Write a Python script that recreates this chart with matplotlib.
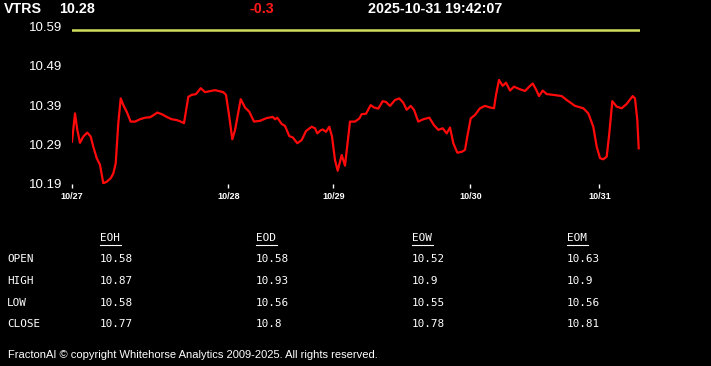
import matplotlib
matplotlib.use("Agg")
import matplotlib.pyplot as plt

# ---- data ----
symbol = "VTRS"
last_price = "10.28"
change = "-0.3"
timestamp = "2025-10-31 19:42:07"

# time position (trading-time index) and price
t = [0, 3, 5.3, 8, 11.3, 15.3, 18.7, 21.3, 24.7, 28,
     31.3, 34.7, 38.7, 41.3, 43.7, 46.3, 48.7, 51.3, 54.7, 58.7,
     63, 68, 73, 78, 81.3, 85.3, 89.7, 94.7, 99.7, 104.7,
     108.7, 112, 114.7, 116.3, 119.7, 124, 128.7, 133, 143, 151.3,
     154, 157.3, 160.3, 163, 168.7, 173, 177.3, 182, 188, 194.7,
     200.7, 203, 205.3, 209.7, 213, 217.3, 220.7, 225.3, 229.7, 234,
     239.7, 243, 245.3, 248.7, 250.7, 254, 257.3, 260, 263, 265.7,
     269.7, 273, 278, 283, 287.3, 289.7, 294, 298.7, 302, 306.3,
     310.7, 314, 318, 323, 327.3, 331.3, 334.7, 338.7, 342, 346.3,
     351.3, 357.3, 362, 366.3, 370.7, 374.7, 378, 381.3, 385.3, 389.7,
     393, 395.3, 398.7, 403, 408, 413, 418, 422, 424, 427,
     430.7, 434, 438, 442, 447.3, 453, 457.3, 460.7, 464, 467,
     470.7, 474.7, 481.3, 489.7, 494.7, 503, 511.3, 516.3, 521.3, 524.7,
     528, 531.3, 534.7, 537.3, 540.3, 544.7, 549.7, 554.7, 560.7, 563,
     565.3, 566.7]
price = [10.297, 10.369, 10.327, 10.294, 10.310, 10.320, 10.310, 10.284, 10.255, 10.238,
         10.191, 10.195, 10.204, 10.216, 10.242, 10.344, 10.407, 10.390, 10.373, 10.348,
         10.348, 10.354, 10.358, 10.359, 10.364, 10.371, 10.367, 10.360, 10.354, 10.352,
         10.348, 10.344, 10.386, 10.411, 10.416, 10.418, 10.433, 10.423, 10.428, 10.423,
         10.416, 10.360, 10.303, 10.326, 10.405, 10.384, 10.373, 10.348, 10.350, 10.357,
         10.360, 10.354, 10.358, 10.342, 10.337, 10.311, 10.308, 10.293, 10.301, 10.324,
         10.335, 10.331, 10.318, 10.326, 10.328, 10.322, 10.335, 10.310, 10.250, 10.223,
         10.263, 10.236, 10.348, 10.348, 10.356, 10.367, 10.368, 10.390, 10.384, 10.381,
         10.400, 10.398, 10.388, 10.403, 10.407, 10.396, 10.378, 10.388, 10.378, 10.348,
         10.354, 10.358, 10.339, 10.327, 10.331, 10.318, 10.333, 10.293, 10.269, 10.271,
         10.276, 10.310, 10.356, 10.365, 10.382, 10.388, 10.384, 10.382, 10.416, 10.454,
         10.439, 10.447, 10.427, 10.437, 10.431, 10.426, 10.437, 10.445, 10.430, 10.413,
         10.427, 10.418, 10.416, 10.413, 10.403, 10.388, 10.382, 10.369, 10.335, 10.284,
         10.255, 10.252, 10.259, 10.318, 10.400, 10.386, 10.382, 10.393, 10.413, 10.407,
         10.352, 10.280]
ref_level = 10.58

date_ticks = [0, 156.3, 261.3, 398.3, 527.3]
date_labels = ["10/27", "10/28", "10/29", "10/30", "10/31"]
y_ticks = [10.19, 10.29, 10.39, 10.49, 10.59]

table_cols = ["EOH", "EOD", "EOW", "EOM"]
table_rows = ["OPEN", "HIGH", "LOW", "CLOSE"]
table_vals = [
    ["10.58", "10.58", "10.52", "10.63"],
    ["10.87", "10.93", "10.9", "10.9"],
    ["10.58", "10.56", "10.55", "10.56"],
    ["10.77", "10.8", "10.78", "10.81"],
]
footer = "FractonAI \u00a9 copyright Whitehorse Analytics 2009-2025. All rights reserved."

# ---- figure ----
W, H = 711, 366
fig = plt.figure(figsize=(W / 100, H / 100), dpi=100, facecolor="black")

def fx(px):
    return px / W

def fy(py):
    return 1 - py / H

ax_l, ax_r, ax_t, ax_b = 72, 640, 26.5, 183.7
ax = fig.add_axes([fx(ax_l), fy(ax_b), fx(ax_r - ax_l), (ax_b - ax_t) / H])
ax.set_facecolor("black")
ax.plot(t, price, color="#ff0a0a", lw=1.6, solid_joinstyle="round")
ax.plot([0, 568], [ref_level, ref_level], color="#d2de5e", lw=1.8)
ax.set_xlim(0, 568)
ax.set_ylim(10.19, 10.59)
for s in ax.spines.values():
    s.set_visible(False)
ax.set_yticks(y_ticks)
ax.set_yticklabels([f"{v:.2f}" for v in y_ticks])
ax.set_xticks(date_ticks)
ax.set_xticklabels(date_labels)
ax.tick_params(axis="y", length=0, pad=7, labelcolor="white", labelsize=9.5)
ax.tick_params(axis="x", length=3, width=1, color="white", pad=3,
               labelcolor="white", labelsize=6.5)
for lab in ax.get_yticklabels():
    lab.set_fontfamily("Liberation Sans")
for lab in ax.get_xticklabels():
    lab.set_fontfamily("Liberation Sans")
    lab.set_fontweight("bold")

# header
hdr = dict(color="white", fontsize=10.3, fontweight="bold", family="Liberation Sans",
           va="center")
fig.text(fx(4), fy(9), symbol, **hdr)
fig.text(fx(59), fy(9), last_price, **hdr)
fig.text(fx(250), fy(9), change, **{**hdr, "color": "#ff1a1a"})
fig.text(fx(368), fy(9), timestamp, **hdr)

# table
mono = dict(color="white", fontsize=7.9, family="DejaVu Sans Mono", va="center")
col_x = [100, 256, 412, 567]
row_y = [259, 281, 302.5, 324]
for cx, name in zip(col_x, table_cols):
    fig.text(fx(cx), fy(238), name, **mono)
    fig.add_artist(plt.Line2D([fx(cx), fx(cx + 21)], [fy(244.5), fy(244.5)],
                              color="white", lw=0.8, transform=fig.transFigure))
for ry, rname, vals in zip(row_y, table_rows, table_vals):
    fig.text(fx(7), fy(ry), rname, **mono)
    for cx, v in zip(col_x, vals):
        fig.text(fx(cx), fy(ry), v, **mono)

fig.text(fx(8), fy(355), footer, color="white", fontsize=8.0,
         family="Liberation Sans", va="center")

fig.savefig("out.png", dpi=100, facecolor="black")
